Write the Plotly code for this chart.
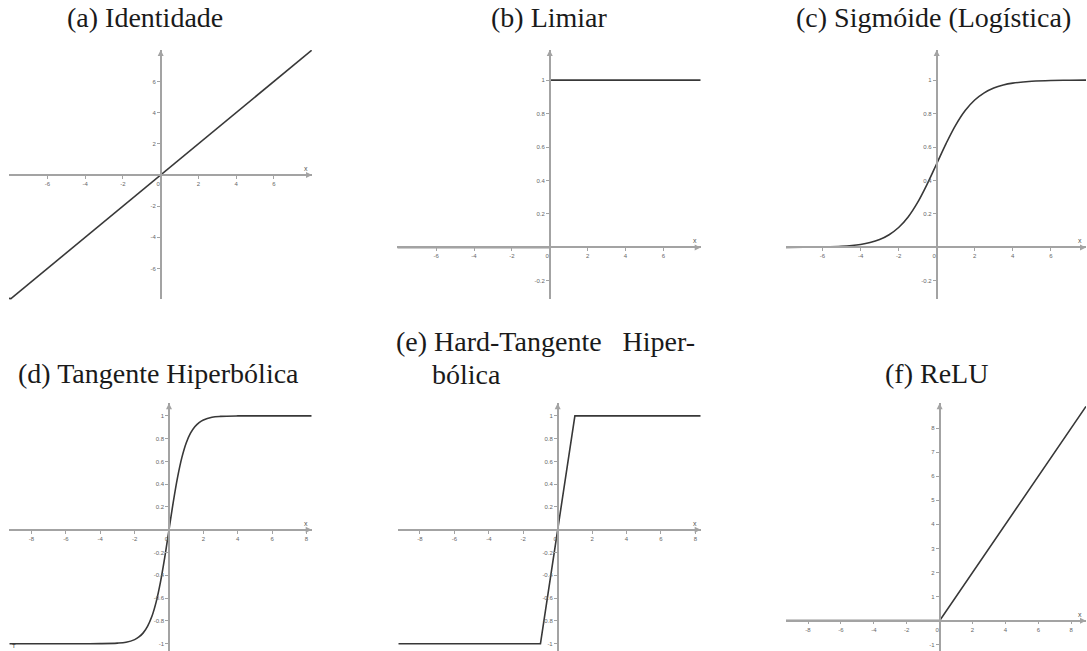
import plotly.graph_objects as go

W, H = 1087, 651

# ---- function samples -------------------------------------------------
# (a) identity
id_x = [-8.0, 8.0]
id_y = [-8.0, 8.0]

# (b) threshold (step)
lim_x = [-8.05, 0.0, None, 0.0, 7.97]
lim_y = [0.0, 0.0, None, 1.0, 1.0]

# (c) logistic sigmoid
sig_x = [-7.92, -7, -6, -5, -4, -3.5, -3, -2.5, -2, -1.5, -1, -0.5, 0,
         0.5, 1, 1.5, 2, 2.5, 3, 3.5, 4, 5, 6, 7, 7.85]
sig_y = [0.0004, 0.0009, 0.0025, 0.0067, 0.018, 0.029, 0.047, 0.076, 0.119,
         0.182, 0.269, 0.378, 0.5, 0.622, 0.731, 0.818, 0.881, 0.924, 0.953,
         0.971, 0.982, 0.993, 0.998, 0.999, 1.0]

# (d) hyperbolic tangent
tanh_x = [-9.29, -5, -4, -3, -2.5, -2, -1.75, -1.5, -1.25, -1, -0.75, -0.5,
          -0.25, 0, 0.25, 0.5, 0.75, 1, 1.25, 1.5, 1.75, 2, 2.5, 3, 4, 5, 8.3]
tanh_y = [-1.0, -0.9998, -0.9993, -0.995, -0.987, -0.964, -0.941, -0.905,
          -0.848, -0.762, -0.635, -0.462, -0.245, 0.0, 0.245, 0.462, 0.635,
          0.762, 0.848, 0.905, 0.941, 0.964, 0.987, 0.995, 0.9993, 0.9998, 1.0]

# (e) hard tanh
htanh_x = [-9.26, -1.0, 1.0, 8.31]
htanh_y = [-1.0, -1.0, 1.0, 1.0]

# (f) ReLU
relu_x = [-9.34, 0.0, 8.9]
relu_y = [0.0, 0.0, 8.9]

# ---- tick values ----------------------------------------------------
xt_ab = [-6, -4, -2, 0, 2, 4, 6]
yt_a = [-6, -4, -2, 2, 4, 6]
yt_bc = [-0.2, 0.2, 0.4, 0.6, 0.8, 1]
xt_def = [-8, -6, -4, -2, 0, 2, 4, 6, 8]
yt_de = [-1, -0.8, -0.6, -0.4, -0.2, 0.2, 0.4, 0.6, 0.8, 1]
yt_f = [-1, 1, 2, 3, 4, 5, 6, 7, 8]

titles = ["(a) Identidade", "(b) Limiar", "(c) Sigmóide (Logística)",
          "(d) Tangente Hiperbólica",
          "(e) Hard-Tangente\u00a0\u00a0\u00a0Hiper-", "(f) ReLU"]
title_e_cont = "bólica"

# ---- panel geometry (pixel boxes) ------------------------------------
panels = [
    dict(x=id_x, y=id_y, xr=(-8.04, 8.02), yr=(-7.98, 8.02),
         px=(9, 312), py=(50, 299.3), xt=xt_ab, yt=yt_a, shape="linear"),
    dict(x=lim_x, y=lim_y, xr=(-8.05, 7.97), yr=(-0.31, 1.18),
         px=(397.3, 700.7), py=(50, 299.3), xt=xt_ab, yt=yt_bc, shape="linear"),
    dict(x=sig_x, y=sig_y, xr=(-7.92, 7.85), yr=(-0.31, 1.18),
         px=(786, 1086), py=(50, 299.3), xt=xt_ab, yt=yt_bc, shape="spline"),
    dict(x=tanh_x, y=tanh_y, xr=(-9.29, 8.3), yr=(-1.064, 1.11),
         px=(9.3, 311.7), py=(403.3, 651), xt=xt_def, yt=yt_de, shape="spline"),
    dict(x=htanh_x, y=htanh_y, xr=(-9.26, 8.31), yr=(-1.064, 1.11),
         px=(398.3, 700.7), py=(403.3, 651), xt=xt_def, yt=yt_de, shape="linear"),
    dict(x=relu_x, y=relu_y, xr=(-9.34, 8.9), yr=(-1.26, 9.03),
         px=(786, 1086), py=(403.3, 651), xt=xt_def, yt=yt_f, shape="linear"),
]

AXIS_COLOR = "#a3a3a3"
CURVE_COLOR = "#383838"
TICK_FONT = dict(family="Liberation Sans", size=6, color="#666666")
TITLE_FONT = dict(family="Liberation Serif", size=28, color="#1a1a1a")


def fmt(v):
    # origin label sits just left of the vertical axis
    return "0\u00a0\u00a0\u00a0" if v == 0 else f"{v:g}"


fig = go.Figure()
annotations = []

for i, p in enumerate(panels, start=1):
    sfx = "" if i == 1 else str(i)
    xd = [p["px"][0] / W, p["px"][1] / W]
    yd = [1 - p["py"][1] / H, 1 - p["py"][0] / H]
    (x0, x1), (y0, y1) = p["xr"], p["yr"]
    # paper positions of the data origin
    pos_y = yd[0] + (0 - y0) / (y1 - y0) * (yd[1] - yd[0])
    pos_x = xd[0] + (0 - x0) / (x1 - x0) * (xd[1] - xd[0])

    common = dict(showgrid=False, zeroline=False, showline=True,
                  linecolor=AXIS_COLOR, linewidth=1.5, ticks="outside",
                  ticklen=3, tickwidth=1, tickcolor=AXIS_COLOR,
                  tickfont=TICK_FONT, fixedrange=True, anchor="free")
    fig.layout[f"xaxis{sfx}"] = dict(
        common, domain=xd, range=list(p["xr"]), position=pos_y,
        tickmode="array", tickvals=p["xt"], ticktext=[fmt(v) for v in p["xt"]])
    fig.layout[f"yaxis{sfx}"] = dict(
        common, domain=yd, range=list(p["yr"]), position=pos_x,
        tickmode="array", tickvals=p["yt"], ticktext=[f"{v:g}" for v in p["yt"]])

    fig.add_trace(go.Scatter(
        x=p["x"], y=p["y"], mode="lines", xaxis=f"x{sfx}", yaxis=f"y{sfx}",
        line=dict(color=CURVE_COLOR, width=1.6, shape=p["shape"]),
        hoverinfo="skip", showlegend=False))

    ref = dict(xref=f"x{sfx}", yref=f"y{sfx}")
    # arrowheads at positive ends of both axes
    annotations.append(dict(ref, x=x1, y=0, ax=-7, ay=0, showarrow=True,
                            arrowhead=2, arrowsize=1, arrowwidth=1.2,
                            arrowcolor=AXIS_COLOR, text=""))
    annotations.append(dict(ref, x=0, y=y1, ax=0, ay=7, showarrow=True,
                            arrowhead=2, arrowsize=1, arrowwidth=1.2,
                            arrowcolor=AXIS_COLOR, text=""))
    # axis name
    annotations.append(dict(ref, x=x1, y=0, text="x", showarrow=False,
                            xanchor="right", yanchor="bottom", xshift=-2,
                            yshift=1, font=dict(family="Liberation Sans",
                                                size=7, color="#555555")))

# endpoint marker on the identity line
fig.add_trace(go.Scatter(x=id_x[:1], y=id_y[:1], mode="markers",
                         marker=dict(color=CURVE_COLOR, size=4),
                         hoverinfo="skip", showlegend=False))

# function label on the tanh panel, tucked under the lower asymptote
annotations.append(dict(xref="x4", yref="y4", x=panels[3]["xr"][0],
                        y=panels[3]["yr"][0], text="T", showarrow=False,
                        xanchor="left", yanchor="bottom", xshift=1, yshift=0,
                        font=dict(family="Liberation Sans", size=6,
                                  color="#333333")))

# panel captions
caption_pos = [(145, 18, "center"), (549, 18, "center"), (933, 18, "center"),
               (159, 373, "center"), (394, 341, "left"), (936, 373, "center")]
for text, (cx, cy, anchor) in zip(titles, caption_pos):
    annotations.append(dict(xref="paper", yref="paper", x=cx / W, y=1 - cy / H,
                            text=text, showarrow=False, xanchor=anchor,
                            yanchor="middle", font=TITLE_FONT))
annotations.append(dict(xref="paper", yref="paper", x=430 / W, y=1 - 374 / H,
                        text=title_e_cont, showarrow=False, xanchor="left",
                        yanchor="middle", font=TITLE_FONT))

fig.update_layout(width=W, height=H, margin=dict(l=0, r=0, t=0, b=0),
                  paper_bgcolor="white", plot_bgcolor="white",
                  annotations=annotations, showlegend=False)

fig.write_html("out.html")
